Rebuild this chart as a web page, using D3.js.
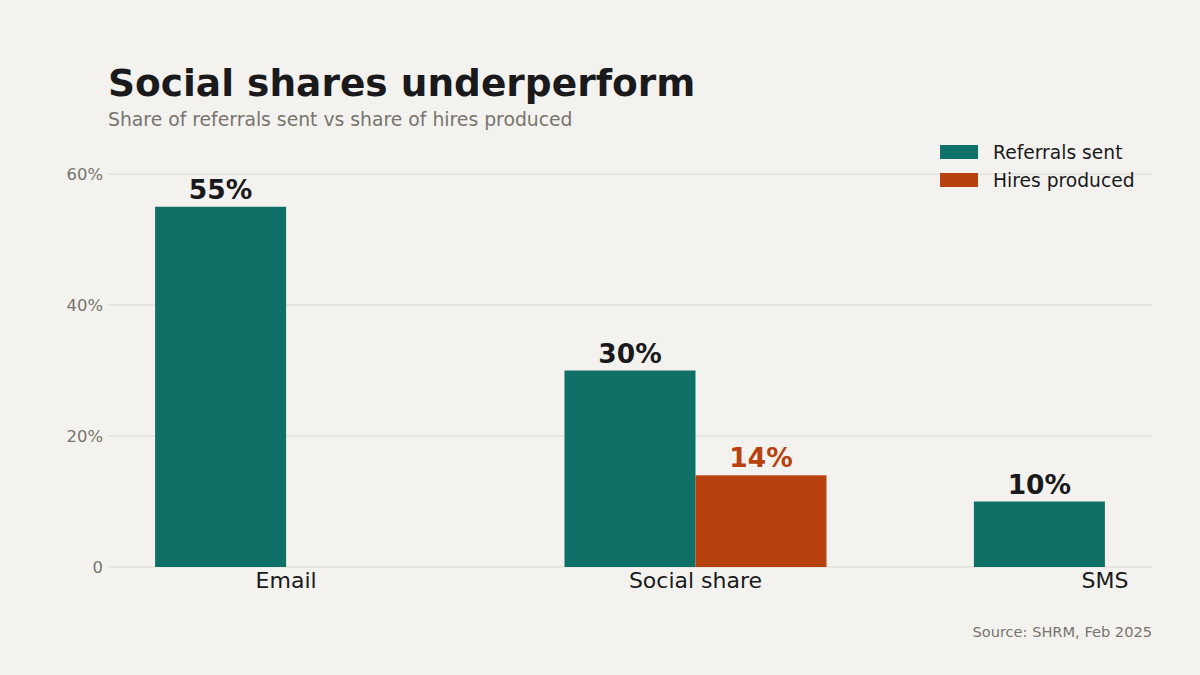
<!DOCTYPE html>
<meta charset="utf-8">
<title>Social shares underperform</title>
<style>

body {
  margin: 0;
  background: #f3f2ee;
}

text {
  font-family: "DejaVu Sans", sans-serif;
}

</style>
<body>
<script src="https://cdn.jsdelivr.net/npm/d3@7"></script>
<script>

var categories = ["Email", "Social share", "SMS"],
    seriesNames = ["Referrals sent", "Hires produced"],
    referralsSent = [55, 30, 10],
    hiresProduced = [null, 14, null],
    yTicks = [0, 20, 40, 60];

var colors = ["#0f7068", "#b8420f"];

var w = 1200,
    h = 675,
    plotLeft = 108,
    plotRight = 1152,
    plotTop = 174,
    plotBottom = 567;

var rows = categories.map(function(c, i) {
  return {cat: c, values: [referralsSent[i], hiresProduced[i]]};
});

var svg = d3.select("body").append("svg")
    .attr("width", w)
    .attr("height", h);

svg.append("rect")
    .attr("width", w)
    .attr("height", h)
    .attr("fill", "#f3f2ee");

var y = d3.scaleLinear()
    .domain([0, 60])
    .range([plotBottom, plotTop]);

// groups keep space for both bars, even where the second one is missing
var x0 = d3.scaleBand()
    .domain(categories)
    .range([plotLeft, 1283])
    .paddingInner(0.36)
    .paddingOuter(0.115);

var x1 = d3.scaleBand()
    .domain([0, 1])
    .range([0, x0.bandwidth()]);

// grid
svg.append("g").selectAll("line")
    .data(yTicks)
  .enter().append("line")
    .attr("x1", plotLeft)
    .attr("x2", plotRight)
    .attr("y1", function(d) { return y(d); })
    .attr("y2", function(d) { return y(d); })
    .attr("stroke", "#dbd9d4")
    .attr("stroke-width", 1);

svg.append("g").selectAll("text")
    .data(yTicks)
  .enter().append("text")
    .attr("x", plotLeft - 5)
    .attr("y", function(d) { return y(d); })
    .attr("dy", "0.35em")
    .attr("text-anchor", "end")
    .attr("font-size", 16.4)
    .attr("fill", "#77756f")
    .text(function(d) { return d === 0 ? "0" : d + "%"; });

// bars
var group = svg.append("g").selectAll("g")
    .data(rows)
  .enter().append("g")
    .attr("transform", function(d) { return "translate(" + x0(d.cat) + ",0)"; });

var cells = group.selectAll("g")
    .data(function(d) {
      return d.values.map(function(v, i) { return {i: i, v: v}; })
        .filter(function(e) { return e.v != null; });
    })
  .enter().append("g");

cells.append("rect")
    .attr("x", function(d) { return x1(d.i); })
    .attr("y", function(d) { return y(d.v); })
    .attr("width", x1.bandwidth())
    .attr("height", function(d) { return plotBottom - y(d.v); })
    .attr("fill", function(d) { return colors[d.i]; });

cells.append("text")
    .attr("x", function(d) { return x1(d.i) + x1.bandwidth() / 2; })
    .attr("y", function(d) { return y(d.v) - 8; })
    .attr("text-anchor", "middle")
    .attr("font-size", 26.5)
    .attr("font-weight", "bold")
    .attr("fill", function(d) { return d.i === 1 ? colors[1] : "#1a1a1c"; })
    .text(function(d) { return d.v + "%"; });

// category labels
svg.append("g").selectAll("text")
    .data(categories)
  .enter().append("text")
    .attr("x", function(d) { return x0(d) + x0.bandwidth() / 2; })
    .attr("y", plotBottom + 21)
    .attr("text-anchor", "middle")
    .attr("font-size", 22)
    .attr("fill", "#1a1a1c")
    .text(function(d) { return d; });

// titles
svg.append("text")
    .attr("x", plotLeft)
    .attr("y", 96)
    .attr("font-size", 37.5)
    .attr("font-weight", "bold")
    .attr("fill", "#1a1a1c")
    .text("Social shares underperform");

svg.append("text")
    .attr("x", plotLeft)
    .attr("y", 126)
    .attr("font-size", 18.8)
    .attr("fill", "#77756f")
    .text("Share of referrals sent vs share of hires produced");

// legend
var legend = svg.append("g").selectAll("g")
    .data(seriesNames)
  .enter().append("g")
    .attr("transform", function(d, i) { return "translate(940," + (145 + i * 28) + ")"; });

legend.append("rect")
    .attr("width", 38)
    .attr("height", 14)
    .attr("fill", function(d, i) { return colors[i]; });

legend.append("text")
    .attr("x", 53)
    .attr("y", 7)
    .attr("dy", "0.35em")
    .attr("font-size", 18.7)
    .attr("fill", "#1a1a1c")
    .text(function(d) { return d; });

svg.append("text")
    .attr("x", plotRight)
    .attr("y", 637)
    .attr("text-anchor", "end")
    .attr("font-size", 14.6)
    .attr("fill", "#77756f")
    .text("Source: SHRM, Feb 2025");

</script>
